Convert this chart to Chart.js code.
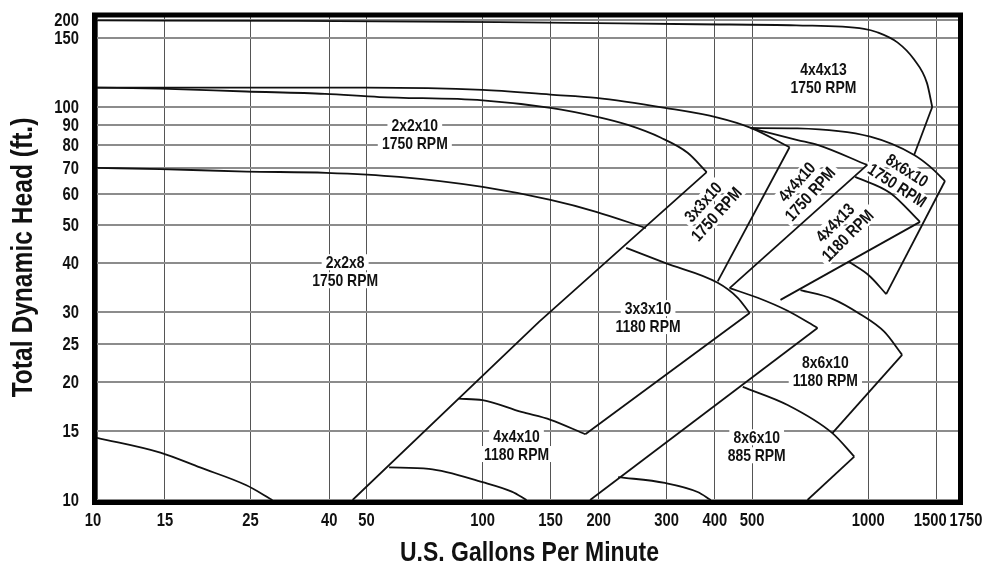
<!DOCTYPE html>
<html>
<head>
<meta charset="utf-8">
<title>Pump curves</title>
<script src="https://cdn.jsdelivr.net/npm/chart.js@4.4.1/dist/chart.umd.min.js"></script>
<style>
  html, body { margin: 0; padding: 0; background: #fff; }
</style>
</head>
<body>
<canvas id="grafico" width="984" height="568"></canvas>
<script>
// ejes (log-log)
const ticksGpm = [10, 15, 25, 40, 50, 100, 150, 200, 300, 400, 500, 1000, 1500, 1750];
const ticksHead = [10, 15, 20, 25, 30, 40, 50, 60, 70, 80, 90, 100, 150, 200];
const tituloX = 'U.S. Gallons Per Minute';
const tituloY = 'Total Dynamic Head (ft.)';

// curvas: [gpm, pies]
const h4x4x13_1750 = [[10, 200], [33, 199], [110, 195], [360, 189], [650, 186], [975, 176], [1055, 166], [1190, 146], [1315, 132], [1420, 115], [1465, 100]];
const r4x4x13_1750 = [[1465, 100], [1315, 75.5]];
const h3x3x10_1750 = [[10, 112], [25, 112], [50, 112], [100, 110.5], [150, 107.5], [197, 105.5], [297, 99.5], [407, 94], [496, 88.5], [625, 79]];
const r3x3x10_1750 = [[625, 79], [407, 36]];
const h2x2x10_1750 = [[10, 112], [14.6, 111.3], [24.4, 109.5], [39, 108], [54, 106], [100, 104], [150, 99.5], [197, 94.5], [238, 90], [290, 83.5], [340, 76.5], [381, 68.3]];
const r2x2x10_1750 = [[381, 68.3], [140, 28.4], [46, 10]];
const h2x2x8_1750 = [[10, 70], [14.6, 69.5], [24.4, 68.5], [39.3, 68], [60.7, 66.4], [100, 62.6], [150, 58], [197, 54.1], [265, 49.2]];
const m2x2x8_1750 = [[10, 14.4], [14.6, 13.2], [18.5, 12.1], [24.4, 10.9], [28.5, 10]];
const m4x4x10_1180 = [[57.2, 12.1], [72.5, 12.0], [100, 11.1], [119, 10.5], [130, 10]];
const h4x4x10_1180 = [[86.7, 18.1], [100, 17.95], [126, 16.75], [150, 16], [184.6, 14.7]];
const r3x3x10_1180 = [[184.6, 14.7], [492.6, 29.9]];
const h3x3x10_1180 = [[235.6, 43.8], [297, 40.1], [407, 35.7], [458.6, 32.7], [492.6, 29.9]];
const l8x6x10_885 = [[190, 10], [738.5, 27.4]];
const m8x6x10_885 = [[224.6, 11.44], [297, 11.05], [361, 10.48], [390.6, 10]];
const m4x4x13_1180 = [[437, 34.6], [516.7, 32.7], [617.7, 30.3], [738.5, 27.4]];
const h4x4x10_1750 = [[495.6, 88.4], [655.5, 82.4], [738.5, 80.1], [994, 71.2]];
const r4x4x10_1750 = [[994, 71.2], [437, 34.6]];
const h8x6x10_1750 = [[496, 88.4], [655, 88.2], [1012, 84], [1315, 75.5], [1446, 70.5], [1581, 64.8]];
const r8x6x10_1750 = [[1581, 64.8], [1113, 33.4]];
const m8x6x10_1750 = [[893, 40.3], [1006, 37.2], [1113, 33.4]];
const h4x4x13_1180 = [[925, 66.4], [1140, 60.4], [1362, 51]];
const r4x4x13_1180 = [[1362, 51], [592, 32.3]];
const h8x6x10_1180 = [[667, 34.2], [807, 32.5], [953.5, 29.7], [1100, 26.8], [1224, 23.4]];
const r8x6x10_1180 = [[1224, 23.4], [807, 14.8]];
const h8x6x10_885 = [[472.6, 19.4], [617.7, 17.45], [807, 14.8], [919.8, 12.9]];
const r8x6x10_885 = [[919.8, 12.9], [695.6, 10]];

// rotulos de cada bomba (ancla en gpm / pies)
const rotulos = [
  { text: ['4x4x13', '1750 RPM'], gpm: 765, ft: 118.5, rot: 0 },
  { text: ['2x2x10', '1750 RPM'], gpm: 66.7, ft: 85.4, rot: 0 },
  { text: ['2x2x8', '1750 RPM'], gpm: 44, ft: 38.2, rot: 0 },
  { text: ['3x3x10', '1180 RPM'], gpm: 268.5, ft: 29.2, rot: 0 },
  { text: ['4x4x10', '1180 RPM'], gpm: 122.4, ft: 13.8, rot: 0 },
  { text: ['8x6x10', '1180 RPM'], gpm: 774, ft: 21.2, rot: 0 },
  { text: ['8x6x10', '885 RPM'], gpm: 513.6, ft: 13.7, rot: 0 },
  { text: ['3x3x10', '1750 RPM'], gpm: 388, ft: 55.3, rot: -48 },
  { text: ['4x4x10', '1750 RPM'], gpm: 679, ft: 62.2, rot: -48 },
  { text: ['4x4x13', '1180 RPM'], gpm: 851.6, ft: 48.9, rot: -45 },
  { text: ['8x6x10', '1750 RPM'], gpm: 1224, ft: 66, rot: 33 }
];

const curvas = [h4x4x13_1750, h3x3x10_1750, h2x2x10_1750, h2x2x8_1750, m2x2x8_1750, m4x4x10_1180,
  h4x4x10_1180, h3x3x10_1180, m8x6x10_885, m4x4x13_1180, h4x4x10_1750, h8x6x10_1750,
  m8x6x10_1750, h4x4x13_1180, h8x6x10_1180, h8x6x10_885];
const rectas = [r4x4x13_1750, r3x3x10_1750, r2x2x10_1750, r3x3x10_1180, l8x6x10_885,
  r4x4x10_1750, r8x6x10_1750, r4x4x13_1180, r8x6x10_1180, r8x6x10_885];

const FUENTE = "'Liberation Sans', Arial, sans-serif";
const ESTRECHO = 0.82; // el original usa una letra condensada
const SQUASH_150_200 = 166; // el tramo 150-200 esta comprimido en el original

// escala log con el tramo superior aplastado
class HeadScale extends Chart.LogarithmicScale {
  getPixelForValue(value) {
    if (value > 150) {
      const p150 = super.getPixelForValue(150);
      const pTop = super.getPixelForValue(SQUASH_150_200);
      return p150 + (value - 150) / 50 * (pTop - p150);
    }
    return super.getPixelForValue(value);
  }
}
HeadScale.id = 'headLog';
HeadScale.defaults = {};
Chart.register(HeadScale);

const toXY = arr => arr.map(p => ({ x: p[0], y: p[1] }));
const datasets = [
  ...curvas.map(c => ({ data: toXY(c), cubicInterpolationMode: 'monotone' })),
  ...rectas.map(r => ({ data: toXY(r), tension: 0 }))
].map(d => Object.assign(d, { showLine: true, pointRadius: 0, borderColor: '#111', borderWidth: 1.8, fill: false }));

// texto bold condensado (escala horizontal)
function textoEstrecho(ctx, txt, x, y, size, rot, align, fondo) {
  ctx.save();
  ctx.translate(x, y);
  if (rot) ctx.rotate(rot * Math.PI / 180);
  ctx.scale(ESTRECHO, 1);
  ctx.font = 'bold ' + size + 'px ' + FUENTE;
  ctx.textAlign = align || 'center';
  ctx.textBaseline = 'middle';
  if (fondo) {
    const w = ctx.measureText(txt).width;
    ctx.fillStyle = '#fff';
    ctx.fillRect(-w / 2 - 5, -8, w + 10, 16);
  }
  ctx.fillStyle = '#111';
  ctx.fillText(txt, 0, 1);
  ctx.restore();
}

const nudgeGpm = { 10: -4, 1500: -6, 1750: 4 };

const textosPlugin = {
  id: 'textos',
  beforeDatasetsDraw(chart) {
    const { ctx, scales: { x, y } } = chart;
    rotulos.forEach(l => {
      const px = x.getPixelForValue(l.gpm), py = y.getPixelForValue(l.ft);
      const a = l.rot * Math.PI / 180;
      l.text.forEach((t, i) => {
        const d = (i - (l.text.length - 1) / 2) * 18;
        textoEstrecho(ctx, t, px - Math.sin(a) * d, py + Math.cos(a) * d, 17, l.rot, 'center', true);
      });
    });
  },
  afterDraw(chart) {
    const { ctx, chartArea: a, scales: { x, y } } = chart;
    ctx.save();
    ctx.lineWidth = 5;
    ctx.strokeStyle = '#000';
    ctx.strokeRect(a.left - 2.5, a.top, a.right - a.left + 1, a.bottom - a.top + 2.5);
    ctx.restore();
    ticksGpm.forEach(v => textoEstrecho(ctx, String(v), x.getPixelForValue(v) + (nudgeGpm[v] || 0), a.bottom + 20, 18, 0, 'center'));
    ticksHead.forEach(v => textoEstrecho(ctx, String(v), 79, y.getPixelForValue(v), 18, 0, 'right'));
    textoEstrecho(ctx, tituloX, (a.left + a.right) / 2, 552, 28, 0, 'center');
    textoEstrecho(ctx, tituloY, 23, (a.top + a.bottom) / 2, 30, -90, 'center');
  }
};

const sinRelleno = s => { s.paddingLeft = 0; s.paddingRight = 0; s.paddingTop = 0; s.paddingBottom = 0; };

new Chart(document.getElementById('grafico'), {
  type: 'scatter',
  data: { datasets },
  plugins: [textosPlugin],
  options: {
    responsive: false,
    animation: false,
    devicePixelRatio: 1,
    events: [],
    layout: { padding: { left: 0, right: 22, top: 15, bottom: 0 } },
    plugins: { legend: { display: false }, tooltip: { enabled: false } },
    scales: {
      x: {
        type: 'logarithmic',
        min: 10, max: 1750,
        afterBuildTicks: s => { s.ticks = ticksGpm.map(v => ({ value: v })); },
        afterFit: s => { s.height = 68; sinRelleno(s); },
        border: { display: false },
        grid: { color: '#555', lineWidth: 1, drawTicks: false },
        ticks: { display: false, autoSkip: false }
      },
      y: {
        type: 'headLog',
        min: 10, max: 171.4,
        afterBuildTicks: s => { s.ticks = ticksHead.map(v => ({ value: v })); },
        afterFit: s => { s.width = 97; sinRelleno(s); },
        border: { display: false },
        grid: { color: '#8c8c8c', lineWidth: 2, drawTicks: false },
        ticks: { display: false, autoSkip: false }
      }
    }
  }
});
</script>
</body>
</html>
